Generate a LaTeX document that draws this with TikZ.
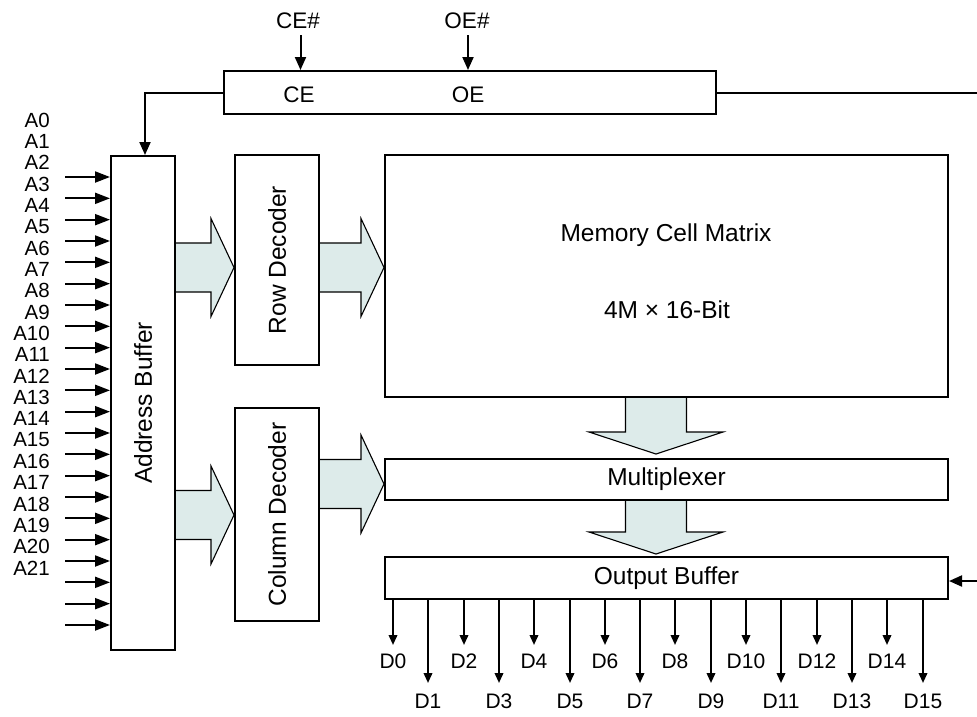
\documentclass[tikz,border=0pt]{standalone}
\usepackage{fontspec}
\setmainfont{Liberation Sans}
\usetikzlibrary{arrows.meta,calc,backgrounds}
\definecolor{blockfill}{RGB}{221,235,234}
\tikzset{
  box/.style={draw, line width=2pt, inner sep=0pt},
  bigtxt/.style={font=\fontsize{24.5}{29}\selectfont, inner sep=0pt},
  midtxt/.style={font=\fontsize{22.5}{27}\selectfont, inner sep=0pt},
  alab/.style={font=\fontsize{20.5}{24}\selectfont, inner sep=0pt},
  dlab/.style={font=\fontsize{21}{25}\selectfont, inner sep=0pt},
  ctl/.style={line width=2pt, -{Triangle[length=13pt,width=11pt]}},
  inarr/.style={line width=2pt, -{Triangle[length=15pt,width=11pt]}},
  outarr/.style={line width=2pt, -{Triangle[length=10pt,width=8.5pt]}},
  plain/.style={line width=2pt},
  blk/.style={fill=blockfill, draw=black, line width=1.1pt, line join=miter},
}
\newcommand\hblk[2]{%
  \filldraw[blk] let \p1=(#1),\p2=(#2) in
    (\x1,\y2+24.5pt) -- (\x2-23pt,\y2+24.5pt) -- (\x2-23pt,\y2+49pt) --
    (\x2,\y2) -- (\x2-23pt,\y2-49pt) -- (\x2-23pt,\y2-24.5pt) -- (\x1,\y2-24.5pt);}
\newcommand\vblk[2]{%
  \filldraw[blk] let \p1=(#1),\p2=(#2) in
    (\x2-30.5pt,\y1) -- (\x2-30.5pt,\y2+22pt) -- (\x2-67pt,\y2+22pt) --
    (\x2,\y2) -- (\x2+67pt,\y2+22pt) -- (\x2+30.5pt,\y2+22pt) -- (\x2+30.5pt,\y1);}
\begin{document}
\begin{tikzpicture}[x=1pt,y=-1pt]
\useasboundingbox (0,0) rectangle (977,716);

% control block
\node[box, minimum width=492pt, minimum height=43pt] (ctrl) at (470,92.5) {};
\node[midtxt] (cetxt) at (299,95) {CE};
\node[midtxt] (oetxt) at (468,95) {OE};
\node[midtxt] (ceh) at (298,21) {CE\#};
\node[midtxt] (oeh) at (467,21) {OE\#};
\coordinate (ceIn) at (300.5,35);
\coordinate (oeIn) at (468,35);
\draw[ctl] (ceIn) -- (ceIn |- ctrl.north);
\draw[ctl] (oeIn) -- (oeIn |- ctrl.north);

% blocks
\node[box, minimum width=64pt, minimum height=494pt] (ab) at (143,403) {};
\node[bigtxt, rotate=90] (abtxt) at (ab.center) {Address Buffer};
\node[box, minimum width=84pt, minimum height=210pt] (rd) at (277,260) {};
\node[bigtxt, rotate=90] (rdtxt) at (rd.center) {Row Decoder};
\node[box, minimum width=84pt, minimum height=213pt] (cd) at (277,514.5) {};
\node[bigtxt, rotate=90] (cdtxt) at (cd.center) {Column Decoder};
\node[box, minimum width=563pt, minimum height=242pt] (mem) at (666.5,276) {};
\node[bigtxt] (memt1) at (666,235) {Memory Cell Matrix};
\node[bigtxt] (memt2) at (667,310) {4M × 16-Bit};
\node[box, bigtxt, minimum width=563pt, minimum height=41pt] (mux) at (666.5,479.5) {Multiplexer};
\node[box, bigtxt, minimum width=563pt, minimum height=42pt] (ob) at (666.5,578) {Output Buffer};

% control connections
\draw[ctl] (ctrl.west) -| ($(ab.north)+(2,0)$);
\coordinate (rtop) at (977,92.5);
\draw[plain] (ctrl.east) -- (rtop);
\coordinate (rob) at (977,581);
\draw[ctl] (rob) -- (rob -| ob.east);

% block arrows
\coordinate (rowlvl) at (0,267.5);
\coordinate (collvl) at (0,515);
\coordinate (mcollvl) at (0,484);
\coordinate (vx) at (656,0);
\begin{pgfonlayer}{background}
\hblk{ab.east |- rowlvl}{rd.west |- rowlvl}
\hblk{rd.east |- rowlvl}{mem.west |- rowlvl}
\hblk{ab.east |- collvl}{cd.west |- collvl}
\hblk{cd.east |- mcollvl}{mux.west |- mcollvl}
\vblk{mem.south -| vx}{$(mux.north -| vx)+(0,-4)$}
\vblk{mux.south -| vx}{$(ob.north -| vx)+(0,-2)$}
\end{pgfonlayer}

% address inputs
\foreach \i in {0,...,21} {
  \node[alab, anchor=east] (alab\i) at (50,{120+21.333*\i}) {A\i};
  \coordinate (ain\i) at (65,{177+21.333*\i});
  \draw[inarr] (ain\i) -- (ain\i -| ab.west);
}

% data outputs
\foreach \i in {0,...,15} {
  \pgfmathsetmacro\dx{round(393+35.3*\i)}
  \pgfmathsetmacro\dy{645+38*mod(\i,2)}
  \pgfmathsetmacro\ly{661+40*mod(\i,2)}
  \coordinate (dend\i) at (\dx,\dy);
  \draw[outarr] (dend\i |- ob.south) -- (dend\i);
  \node[dlab] (dlab\i) at (\dx,\ly) {D\i};
}
\end{tikzpicture}
\end{document}
